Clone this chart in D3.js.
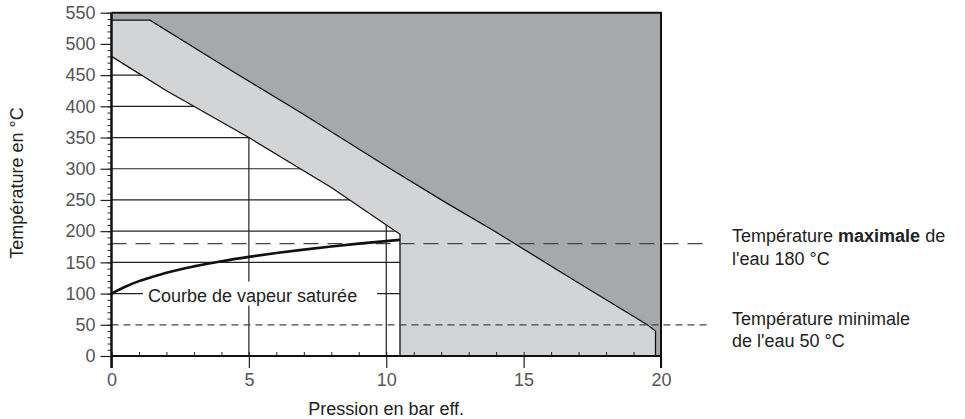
<!DOCTYPE html>
<html>
<head>
<meta charset="utf-8">
<script src="https://cdn.jsdelivr.net/npm/d3@7"></script>
<style>
  body { margin: 0; background: #fff; }
  text { font-family: "Liberation Sans", Arial, sans-serif; }
</style>
</head>
<body>
<div id="chart"></div>
<script>
// saturation curve (gauge pressure in bar, temperature in °C)
var satPressure = [0, 0.5, 1, 1.5, 2, 3, 4, 5, 6, 7, 8, 9, 10, 10.5];
var satTemp = [100, 111, 120, 127, 133.5, 143.6, 151.8, 158.8, 165, 170.4, 175.4, 180, 184.1, 186];

// upper limit of the light band (edge of the dark zone)
var upperP = [0, 1.4, 4, 7, 10, 12.2, 13.9, 17, 19.5, 19.8, 19.8];
var upperT = [538, 538, 467, 387, 304, 245, 201, 117, 50, 40, 0];

// lower limit of the light band (edge of the white zone)
var lowerP = [0, 2, 5, 8, 10.5, 10.5];
var lowerT = [480, 425, 350, 270, 195, 0];

var yTicks = [0, 50, 100, 150, 200, 250, 300, 350, 400, 450, 500, 550];
var xTicks = [0, 5, 10, 15, 20];
var gridT = [100, 150, 200, 250, 300, 350, 400, 450];
var gridP = [5, 10];
var limitMax = 180, limitMin = 50;

var width = 965, height = 419;
var plotLeft = 111.5, plotRight = 661, plotTop = 12.7, plotBottom = 356;

var x = d3.scaleLinear().domain([0, 20]).range([plotLeft, plotRight]);
var y = d3.scaleLinear().domain([0, 550]).range([plotBottom, plotTop]);

var svg = d3.select('#chart').append('svg')
  .attr('width', width)
  .attr('height', height);

var upper = upperP.map(function (p, i) { return [p, upperT[i]]; });
var lower = lowerP.map(function (p, i) { return [p, lowerT[i]]; });
var sat = satPressure.map(function (p, i) { return [p, satTemp[i]]; });

var line = d3.line()
  .x(function (d) { return x(d[0]); })
  .y(function (d) { return y(d[1]); });

// dark background zone
svg.append('rect')
  .attr('x', x(0)).attr('y', y(550))
  .attr('width', x(20) - x(0)).attr('height', y(0) - y(550))
  .attr('fill', '#a7a8ab');

// light band
var lightPoly = upper.concat(lower.slice().reverse());
svg.append('path')
  .attr('d', line(lightPoly) + 'Z')
  .attr('fill', '#d3d4d6');

// white operating zone
var whitePoly = [[0, 0]].concat(lower);
svg.append('clipPath').attr('id', 'whiteClip')
  .append('path').attr('d', line(whitePoly) + 'Z');
svg.append('path')
  .attr('d', line(whitePoly) + 'Z')
  .attr('fill', '#fff');

// grid inside white zone
var grid = svg.append('g').attr('clip-path', 'url(#whiteClip)');
grid.selectAll('.hgrid').data(gridT).enter().append('line')
  .attr('x1', x(0)).attr('x2', x(20))
  .attr('y1', function (d) { return y(d); })
  .attr('y2', function (d) { return y(d); })
  .attr('stroke', '#222').attr('stroke-width', 1.2);
grid.selectAll('.vgrid').data(gridP).enter().append('line')
  .attr('x1', function (d) { return x(d); })
  .attr('x2', function (d) { return x(d); })
  .attr('y1', y(550)).attr('y2', y(0))
  .attr('stroke', '#222').attr('stroke-width', 1.2);

// boundary lines
svg.append('path').attr('d', line(upper))
  .attr('fill', 'none').attr('stroke', '#111').attr('stroke-width', 1.3);
svg.append('path').attr('d', line(lower))
  .attr('fill', 'none').attr('stroke', '#111').attr('stroke-width', 1.3);

// limit lines
svg.append('line')
  .attr('x1', x(0)).attr('x2', 708)
  .attr('y1', y(limitMax)).attr('y2', y(limitMax))
  .attr('stroke', '#444').attr('stroke-width', 1.2)
  .attr('stroke-dasharray', '15,9');
svg.append('line')
  .attr('x1', x(0)).attr('x2', 708)
  .attr('y1', y(limitMin)).attr('y2', y(limitMin))
  .attr('stroke', '#444').attr('stroke-width', 1.2)
  .attr('stroke-dasharray', '7,5');

// label on the 100 °C line
svg.append('rect')
  .attr('x', 143).attr('y', y(100) - 12)
  .attr('width', 234).attr('height', 24)
  .attr('fill', '#fff');
svg.append('text')
  .attr('x', 148).attr('y', y(100) + 8)
  .attr('font-size', 18).attr('fill', '#222')
  .text('Courbe de vapeur saturée');

// saturation curve
var satLine = d3.line()
  .x(function (d) { return x(d[0]); })
  .y(function (d) { return y(d[1]); })
  .curve(d3.curveMonotoneX);
svg.append('path')
  .attr('d', satLine(sat))
  .attr('fill', 'none').attr('stroke', '#111').attr('stroke-width', 2.6);

// axes
var yAxis = svg.append('g')
  .attr('transform', 'translate(' + plotLeft + ',0)')
  .call(d3.axisLeft(y).tickValues(yTicks).tickSize(11).tickPadding(5));
yAxis.select('.domain').remove();
yAxis.selectAll('.tick line').attr('stroke', '#222').attr('stroke-width', 1.2);
yAxis.selectAll('text').attr('font-size', 18).attr('fill', '#555')
  .attr('font-family', '"Liberation Sans", Arial, sans-serif');

var yMinor = svg.append('g')
  .attr('transform', 'translate(' + plotLeft + ',0)')
  .call(d3.axisLeft(y).tickValues(d3.range(0, 551, 10)).tickSize(4).tickFormat(''));
yMinor.select('.domain').remove();
yMinor.selectAll('.tick line').attr('stroke', '#222');

var xAxis = svg.append('g')
  .attr('transform', 'translate(0,' + plotBottom + ')')
  .call(d3.axisBottom(x).tickValues(xTicks).tickSize(12).tickPadding(5));
xAxis.select('.domain').remove();
xAxis.selectAll('.tick line').attr('stroke', '#222').attr('stroke-width', 1.2);
xAxis.selectAll('text').attr('font-size', 18).attr('fill', '#555')
  .attr('font-family', '"Liberation Sans", Arial, sans-serif');

var xMinor = svg.append('g')
  .attr('transform', 'translate(0,' + plotBottom + ')')
  .call(d3.axisTop(x).tickValues(d3.range(0, 21, 1)).tickSize(4).tickFormat(''));
xMinor.select('.domain').remove();
xMinor.selectAll('.tick line').attr('stroke', '#222');

// frame lines
svg.append('line').attr('x1', plotLeft).attr('x2', plotLeft).attr('y1', plotTop).attr('y2', plotBottom + 12)
  .attr('stroke', '#111').attr('stroke-width', 2.5);
svg.append('line').attr('x1', plotLeft).attr('x2', plotRight).attr('y1', plotBottom).attr('y2', plotBottom)
  .attr('stroke', '#111').attr('stroke-width', 2);
svg.append('line').attr('x1', plotLeft).attr('x2', plotRight + 1).attr('y1', plotTop).attr('y2', plotTop)
  .attr('stroke', '#111').attr('stroke-width', 2);
svg.append('line').attr('x1', plotRight).attr('x2', plotRight).attr('y1', plotTop).attr('y2', plotBottom + 12)
  .attr('stroke', '#111').attr('stroke-width', 2);

// axis titles
svg.append('text')
  .attr('x', x(10)).attr('y', 415)
  .attr('text-anchor', 'middle')
  .attr('font-size', 18).attr('fill', '#222')
  .text('Pression en bar eff.');
svg.append('text')
  .attr('transform', 'translate(23,183) rotate(-90)')
  .attr('text-anchor', 'middle')
  .attr('font-size', 18).attr('fill', '#222')
  .text('Température en °C');

// annotations
var noteMax = svg.append('text').attr('x', 732).attr('y', 242).attr('font-size', 18).attr('fill', '#222');
noteMax.append('tspan').text('Température ');
noteMax.append('tspan').attr('font-weight', 'bold').text('maximale');
noteMax.append('tspan').text(' de');
svg.append('text').attr('x', 732).attr('y', 265).attr('font-size', 18).attr('fill', '#222')
  .text("l'eau 180 °C");
svg.append('text').attr('x', 732).attr('y', 325).attr('font-size', 18).attr('fill', '#222')
  .text('Température minimale');
svg.append('text').attr('x', 732).attr('y', 347).attr('font-size', 18).attr('fill', '#222')
  .text("de l'eau 50 °C");
</script>
</body>
</html>
